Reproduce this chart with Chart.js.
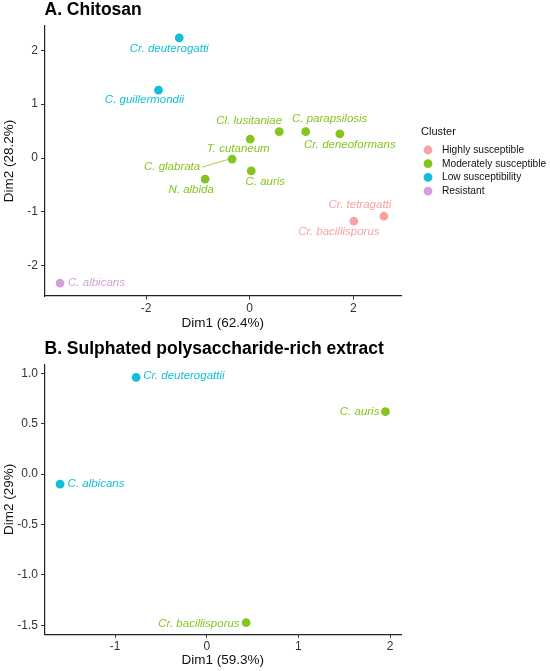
<!DOCTYPE html>
<html lang="en">
  <head>
    <meta charset="utf-8">
    <title>PCA clusters</title>
    <script src="https://cdn.jsdelivr.net/npm/chart.js"></script>
    <style>
      body { margin: 0; background: #fff; }
      #wrap { position: relative; width: 550px; height: 671px; }
      #wrap canvas { position: absolute; left: 0; }
    </style>
  </head>
  <body>
    <div id="wrap">
      <canvas id="chartA" width="550" height="330" style="top:0"></canvas>
      <canvas id="chartB" width="550" height="341" style="top:330px"></canvas>
    </div>
    <script>
      // clusters (shared legend)
      const clusters = ['Highly susceptible', 'Moderately susceptible', 'Low susceptibility', 'Resistant'];

      // A. Chitosan
      const speciesA = ['Cr. deuterogatti', 'C. guillermondii', 'Cl. lusitaniae', 'C. parapsilosis', 'Cr. deneoformans',
        'T. cutaneum', 'C. glabrata', 'C. auris', 'N. albida', 'Cr. tetragatti', 'Cr. bacillisporus', 'C. albicans'];
      const dim1A = [-1.36, -1.76, 0.57, 1.08, 1.74, 0.01, -0.34, 0.03, -0.86, 2.59, 2.01, -3.66];
      const dim2A = [2.23, 1.26, 0.49, 0.49, 0.45, 0.35, -0.02, -0.24, -0.39, -1.08, -1.17, -2.32];
      const clusterA = [2, 2, 1, 1, 1, 1, 1, 1, 1, 0, 0, 3];
      const xTicksA = [-2, 0, 2];
      const yTicksA = [-2, -1, 0, 1, 2];

      // B. Sulphated polysaccharide-rich extract
      const speciesB = ['Cr. deuterogattii', 'C. auris', 'C. albicans', 'Cr. bacillisporus'];
      const dim1B = [-0.77, 1.95, -1.60, 0.43];
      const dim2B = [0.96, 0.62, -0.10, -1.475];
      const clusterB = [2, 1, 2, 1];
      const xTicksB = [-1, 0, 1, 2];
      const yTicksB = [-1.5, -1.0, -0.5, 0.0, 0.5, 1.0];

      // styling
      const colors = ['#f5a3a3', '#86c41e', '#12bfd6', '#d49fd9'];
      // label offsets in px from the point: [dx, dy, align, connector]
      const labelPosA = [
        [-10, 11, 'center'], [-14, 10, 'center'], [-30, -11, 'center'], [24, -13, 'center'],
        [10, 11, 'center'], [-12, 10, 'center'], [-60, 8, 'center', true], [14, 11, 'center'],
        [-14, 11, 'center'], [-24, -11, 'center'], [-15, 11, 'center'], [8, 0, 'left']
      ];
      const labelPosB = [[7, -2, 'left'], [-6, 0, 'right'], [7.5, 0, 'left'], [-6.5, 1, 'right']];

      const FONT = "'Liberation Sans', Arial, sans-serif";
      Chart.defaults.font.family = FONT;

      function buildSets(species, d1, d2, cl) {
        return clusters.map((name, c) => ({
          label: name,
          data: species.map((s, i) => ({ x: d1[i], y: d2[i], name: s, idx: i })).filter((p, i) => cl[i] === c),
          backgroundColor: colors[c],
          pointRadius: 4.4,
          pointBorderWidth: 0,
          pointHoverRadius: 4.4
        })).filter(ds => ds.data.length);
      }

      // draws point labels, panel title and (panel A) legend
      const decor = {
        id: 'decor',
        afterDatasetsDraw(chart, args, opts) {
          const ctx = chart.ctx;
          ctx.save();
          chart.data.datasets.forEach((ds, di) => {
            const meta = chart.getDatasetMeta(di);
            ds.data.forEach((p, j) => {
              const el = meta.data[j];
              const lp = opts.labelPos[p.idx];
              const tx = el.x + lp[0], ty = el.y + lp[1];
              ctx.font = 'italic 11.5px ' + FONT;
              ctx.fillStyle = ds.backgroundColor;
              ctx.textAlign = lp[2];
              ctx.textBaseline = 'middle';
              ctx.fillText(p.name, tx, ty);
              if (lp[3]) {
                const w = ctx.measureText(p.name).width;
                ctx.strokeStyle = ds.backgroundColor;
                ctx.lineWidth = 0.8;
                ctx.beginPath();
                ctx.moveTo(tx + w / 2 + 2, ty);
                ctx.lineTo(el.x - 3, el.y);
                ctx.stroke();
              }
            });
          });
          ctx.font = 'bold 17.5px ' + FONT;
          ctx.fillStyle = '#000';
          ctx.textAlign = 'left';
          ctx.textBaseline = 'middle';
          ctx.fillText(opts.title, chart.chartArea.left, opts.titleY);
          if (opts.legend) {
            ctx.font = '11px ' + FONT;
            ctx.fillStyle = '#111';
            ctx.fillText('Cluster', 421, 132);
            clusters.forEach((c, i) => {
              const y = 150 + i * 13.7;
              ctx.fillStyle = colors[i];
              ctx.beginPath();
              ctx.arc(428, y, 4.4, 0, Math.PI * 2);
              ctx.fill();
              ctx.font = '10.2px ' + FONT;
              ctx.fillStyle = '#111';
              ctx.fillText(c, 442, y);
            });
          }
          ctx.restore();
        }
      };

      function axis(min, max, ticks, title, yAxis, size, fmt, titlePad) {
        return {
          type: 'linear',
          min: min,
          max: max,
          afterBuildTicks: s => { s.ticks = ticks.map(v => ({ value: v })); },
          afterFit: s => {
            if (yAxis) s.width = size; else s.height = size;
            s.paddingLeft = 0; s.paddingRight = 0; s.paddingTop = 0; s.paddingBottom = 0;
          },
          grid: { drawOnChartArea: false, drawTicks: true, tickLength: 3.5, tickColor: '#333', color: '#333' },
          border: { display: true, color: '#222', width: 1.2 },
          ticks: {
            color: '#333',
            font: { size: 12 },
            padding: yAxis ? 3 : 2,
            callback: v => fmt ? Number(v).toFixed(1) : String(v)
          },
          title: {
            display: true,
            text: title,
            color: '#111',
            font: { size: 13.5, lineHeight: 1 },
            padding: titlePad
          }
        };
      }

      function makeChart(id, sets, sc, opts, pad) {
        return new Chart(document.getElementById(id), {
          type: 'scatter',
          data: { datasets: sets },
          options: {
            responsive: false,
            animation: false,
            layout: { padding: pad },
            plugins: { legend: { display: false }, tooltip: { enabled: false }, decor: opts },
            scales: { x: sc.x, y: sc.y }
          },
          plugins: [decor]
        });
      }

      makeChart('chartA', buildSets(speciesA, dim1A, dim2A, clusterA), {
        x: axis(-3.96, 2.92, xTicksA, 'Dim1 (62.4%)', false, 34, false, { top: 0, bottom: 0 }),
        y: axis(-2.56, 2.45, yTicksA, 'Dim2 (28.2%)', true, 44.5, false, { top: 3, bottom: 0 })
      }, { title: 'A. Chitosan', titleY: 10, labelPos: labelPosA, legend: true },
      { left: 0, right: 149, top: 26, bottom: 0 });

      makeChart('chartB', buildSets(speciesB, dim1B, dim2B, clusterB), {
        x: axis(-1.77, 2.12, xTicksB, 'Dim1 (59.3%)', false, 36.7, false, { top: 0, bottom: 4 }),
        y: axis(-1.59, 1.09, yTicksB, 'Dim2 (29%)', true, 44.5, true, { top: 3, bottom: 0 })
      }, { title: 'B. Sulphated polysaccharide-rich extract', titleY: 19.5, labelPos: labelPosB, legend: false },
      { left: 0, right: 149, top: 34.3, bottom: 0 });
    </script>
  </body>
</html>
